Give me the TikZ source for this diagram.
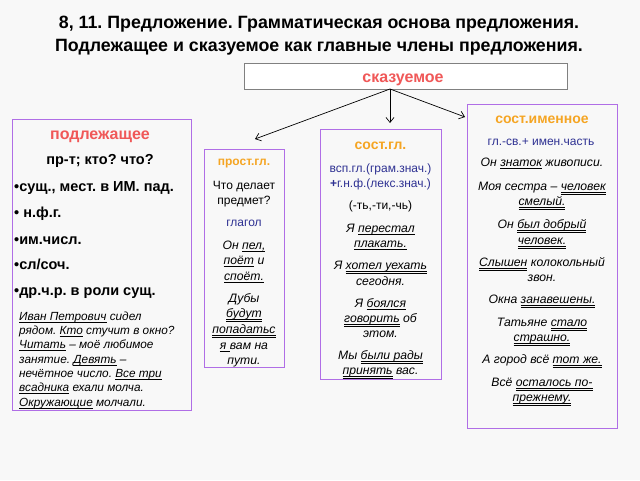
\documentclass[tikz,border=0pt]{standalone}
\usepackage{fontspec}
\setmainfont{Liberation Sans}
\usetikzlibrary{arrows.meta}
\frenchspacing
\newcommand\myul[1]{\setbox0\hbox{#1}\leavevmode\rlap{\rule[-2.3pt]{\wd0}{0.6pt}}\box0\relax}
\newcommand\myuul[1]{\setbox0\hbox{#1}\leavevmode\rlap{\rule[-2.3pt]{\wd0}{0.6pt}}\rlap{\rule[-4.1pt]{\wd0}{0.6pt}}\box0\relax}
\definecolor{bg}{RGB}{248,248,248}
\definecolor{redt}{RGB}{240,88,88}
\definecolor{oran}{RGB}{245,165,35}
\definecolor{dblue}{RGB}{46,49,146}
\definecolor{purp}{RGB}{176,110,230}
\definecolor{grayb}{RGB}{128,128,128}
\tikzset{
  frame/.style={draw=purp,line width=1pt},
  skframe/.style={draw=grayb,line width=1pt,fill=white},
  t/.style={inner sep=0pt,anchor=base,font=\fontsize{12}{14}\selectfont},
  ti/.style={t,font=\fontsize{12.2}{14}\selectfont\itshape},
  tis/.style={t,anchor=base west,font=\fontsize{11.8}{13}\selectfont\itshape},
  tb/.style={t,anchor=base west,font=\fontsize{14.5}{16}\selectfont\bfseries},
  hd/.style={t,font=\fontsize{14}{16}\selectfont\bfseries},
  ttl/.style={t,font=\fontsize{17.8}{20}\selectfont\bfseries},
  conn/.style={line width=0.7pt,-{Straight Barb[length=5pt,width=8pt]}},
}
\begin{document}
\begin{tikzpicture}[x=1pt,y=-1pt]
\useasboundingbox (0,0) rectangle (640,480);
\fill[bg] (0,0) rectangle (640,480);
% title
\node[ttl] (t1) at (319,28) {8, 11. Предложение. Грамматическая основа предложения.};
\node[ttl] (t2) at (319,51) {Подлежащее и сказуемое как главные члены предложения.};
% skazuemoe
\draw[skframe] (244,63) rectangle (567,89);
\node[hd,font=\fontsize{16}{18}\selectfont\bfseries,text=redt] (sk) at (403,82) {сказуемое};
\coordinate (v) at (390,89);
\coordinate (e1) at (255,139);
\coordinate (e2) at (390,123);
\coordinate (e3) at (465,117);
\draw[conn] (v) -- (e1);
\draw[conn] (v) -- (e2);
\draw[conn] (v) -- (e3);
% podlezhashchee box
\draw[frame] (12,119) rectangle (191,410);
\node[hd,font=\fontsize{16}{18}\selectfont\bfseries,text=redt] (p0) at (100,139) {подлежащее};
\node[tb,anchor=base] (p1) at (100,164) {пр-т; кто? что?};
\node[tb] (p2) at (14,191) {•сущ., мест. в ИМ. пад.};
\node[tb] (p3) at (14,217) {• н.ф.г.};
\node[tb] (p4) at (14,244) {•им.числ.};
\node[tb] (p5) at (14,269) {•сл/соч.};
\node[tb] (p6) at (14,295) {•др.ч.р. в роли сущ.};
\node[tis] (p7) at (19,320) {\myul{Иван Петрович} сидел};
\node[tis] (p8) at (19,334.3) {рядом. \myul{Кто} стучит в окно?};
\node[tis] (p9) at (19,348.6) {\myul{Читать} – моё любимое};
\node[tis] (p10) at (19,363) {занятие. \myul{Девять} –};
\node[tis] (p11) at (19,377.3) {нечётное число. \myul{Все три}};
\node[tis] (p12) at (19,391.6) {\myul{всадника} ехали молча.};
\node[tis] (p13) at (19,406) {\myul{Окружающие} молчали.};
% prost.gl box
\draw[frame] (204,149) rectangle (284,367);
\node[t,font=\fontsize{12}{14}\selectfont\bfseries,text=oran] (a0) at (244,165) {прост.гл.};
\node[t] (a1) at (244,189) {Что делает};
\node[t] (a2) at (244,204) {предмет?};
\node[t,text=dblue] (a3) at (244,226) {глагол};
\node[ti] (a4) at (244,249) {Он \myul{пел,}};
\node[ti] (a5) at (244,264) {\myul{поёт} и};
\node[ti] (a6) at (244,280) {\myul{споёт.}};
\node[ti] (a7) at (244,302) {Дубы};
\node[ti] (a8) at (244,317) {\myuul{будут}};
\node[ti] (a9) at (244,333) {\myuul{попадатьс}};
\node[ti] (a10) at (244,349) {\myul{я }вам на};
\node[ti] (a11) at (244,364) {пути.};
% sost.gl box
\draw[frame] (320,129) rectangle (441,379);
\node[hd,text=oran] (b0) at (380.5,149) {сост.гл.};
\node[t,text=dblue] (b1) at (380.5,172) {всп.гл.(грам.знач.)};
\node[t,text=dblue] (b2) at (380.5,187) {\textbf{+}г.н.ф.(лекс.знач.)};
\node[t] (b3) at (380.5,209) {(-ть,-ти,-чь)};
\node[ti] (b4) at (380.5,232) {Я \myul{перестал}};
\node[ti] (b5) at (380.5,247) {\myul{плакать.}};
\node[ti] (b6) at (380.5,269) {Я \myuul{хотел уехать}};
\node[ti] (b7) at (380.5,285) {сегодня.};
\node[ti] (b8) at (380.5,307) {Я \myul{боялся}};
\node[ti] (b9) at (380.5,322) {\myuul{говорить} об};
\node[ti] (b10) at (380.5,337) {этом.};
\node[ti] (b11) at (380.5,359) {Мы \myuul{были рады}};
\node[ti] (b12) at (380.5,374) {\myuul{принять} вас.};
% sost.imennoe box
\draw[frame] (467,104) rectangle (617,428);
\node[hd,text=oran] (c0) at (542,123) {сост.именное};
\node[t,font=\fontsize{12}{14}\selectfont,text=dblue] (c1) at (541,145) {гл.-св.+ имен.часть};
\node[ti] (c2) at (542,166) {Он \myul{знаток} живописи.};
\node[ti] (c3) at (542,190) {Моя сестра – \myuul{человек}};
\node[ti] (c4) at (542,205) {\myuul{смелый.}};
\node[ti] (c5) at (542,228) {Он \myuul{был добрый}};
\node[ti] (c6) at (542,244) {\myuul{человек.}};
\node[ti] (c7) at (542,266) {\myuul{Слышен} колокольный};
\node[ti] (c8) at (542,281) {звон.};
\node[ti] (c9) at (542,303) {Окна \myuul{занавешены.}};
\node[ti] (c10) at (542,326) {Татьяне \myuul{стало}};
\node[ti] (c11) at (542,341) {\myuul{страшно.}};
\node[ti] (c12) at (542,363) {А город всё \myuul{тот же.}};
\node[ti] (c13) at (542,386) {Всё \myuul{осталось по-}};
\node[ti] (c14) at (542,401) {\myuul{прежнему.}};
\end{tikzpicture}
\end{document}
